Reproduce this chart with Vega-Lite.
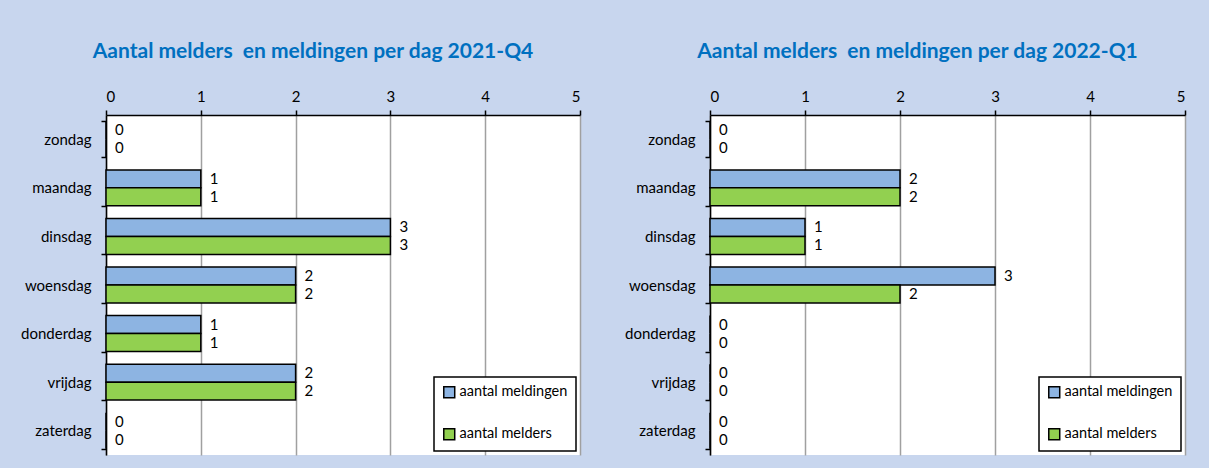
{
  "$schema": "https://vega.github.io/schema/vega-lite/v6.json",
  "background": "#c8d6ee",
  "padding": {"left": 20, "top": 41, "right": 24, "bottom": 16},
  "bounds": "flush",
  "spacing": 130,
  "config": {
    "font": "Lato",
    "view": {"fill": "white", "stroke": null},
    "title": {"fontSize": 21, "fontWeight": "bold", "color": "#0070C0", "anchor": "middle", "offset": 27, "dx": -30},
    "axis": {"labelFontSize": 15, "labelColor": "black", "domainColor": "black", "domainWidth": 1.5, "tickColor": "black", "tickWidth": 1.5, "tickSize": 5, "labelFontWeight": "normal"},
    "legend": {"orient": "bottom-right", "offset": 4, "padding": 8, "rowPadding": 24, "strokeColor": "black", "fillColor": "white", "strokeWidth": 1.5, "symbolType": "square", "symbolSize": 120, "symbolStrokeColor": "black", "symbolStrokeWidth": 1.5, "labelFontSize": 14.5, "labelColor": "black", "labelOffset": 3, "symbolOpacity": 1}
  },
  "datasets": {
    "d": [
      {"periode": "2021-Q4", "dag": "zondag", "reeks": "aantal meldingen", "aantal": 0},
      {"periode": "2021-Q4", "dag": "zondag", "reeks": "aantal melders", "aantal": 0},
      {"periode": "2021-Q4", "dag": "maandag", "reeks": "aantal meldingen", "aantal": 1},
      {"periode": "2021-Q4", "dag": "maandag", "reeks": "aantal melders", "aantal": 1},
      {"periode": "2021-Q4", "dag": "dinsdag", "reeks": "aantal meldingen", "aantal": 3},
      {"periode": "2021-Q4", "dag": "dinsdag", "reeks": "aantal melders", "aantal": 3},
      {"periode": "2021-Q4", "dag": "woensdag", "reeks": "aantal meldingen", "aantal": 2},
      {"periode": "2021-Q4", "dag": "woensdag", "reeks": "aantal melders", "aantal": 2},
      {"periode": "2021-Q4", "dag": "donderdag", "reeks": "aantal meldingen", "aantal": 1},
      {"periode": "2021-Q4", "dag": "donderdag", "reeks": "aantal melders", "aantal": 1},
      {"periode": "2021-Q4", "dag": "vrijdag", "reeks": "aantal meldingen", "aantal": 2},
      {"periode": "2021-Q4", "dag": "vrijdag", "reeks": "aantal melders", "aantal": 2},
      {"periode": "2021-Q4", "dag": "zaterdag", "reeks": "aantal meldingen", "aantal": 0},
      {"periode": "2021-Q4", "dag": "zaterdag", "reeks": "aantal melders", "aantal": 0},
      {"periode": "2022-Q1", "dag": "zondag", "reeks": "aantal meldingen", "aantal": 0},
      {"periode": "2022-Q1", "dag": "zondag", "reeks": "aantal melders", "aantal": 0},
      {"periode": "2022-Q1", "dag": "maandag", "reeks": "aantal meldingen", "aantal": 2},
      {"periode": "2022-Q1", "dag": "maandag", "reeks": "aantal melders", "aantal": 2},
      {"periode": "2022-Q1", "dag": "dinsdag", "reeks": "aantal meldingen", "aantal": 1},
      {"periode": "2022-Q1", "dag": "dinsdag", "reeks": "aantal melders", "aantal": 1},
      {"periode": "2022-Q1", "dag": "woensdag", "reeks": "aantal meldingen", "aantal": 3},
      {"periode": "2022-Q1", "dag": "woensdag", "reeks": "aantal melders", "aantal": 2},
      {"periode": "2022-Q1", "dag": "donderdag", "reeks": "aantal meldingen", "aantal": 0},
      {"periode": "2022-Q1", "dag": "donderdag", "reeks": "aantal melders", "aantal": 0},
      {"periode": "2022-Q1", "dag": "vrijdag", "reeks": "aantal meldingen", "aantal": 0},
      {"periode": "2022-Q1", "dag": "vrijdag", "reeks": "aantal melders", "aantal": 0},
      {"periode": "2022-Q1", "dag": "zaterdag", "reeks": "aantal meldingen", "aantal": 0},
      {"periode": "2022-Q1", "dag": "zaterdag", "reeks": "aantal melders", "aantal": 0}
    ]
  },
  "resolve": {"scale": {"color": "independent"}, "legend": {"color": "independent"}},
  "hconcat": [
    {
      "width": 474,
      "height": 340,
      "title": "Aantal melders \u00a0en meldingen per dag 2021-Q4",
      "data": {"name": "d"},
      "transform": [{"filter": "datum.periode === '2021-Q4'"}],
      "encoding": {
        "y": {"field": "dag", "type": "nominal", "title": null,
              "sort": ["zondag", "maandag", "dinsdag", "woensdag", "donderdag", "vrijdag", "zaterdag"],
              "scale": {"paddingInner": 0.26, "paddingOuter": 0.13},
              "axis": {"tickBand": "extent", "labelPadding": 10, "grid": false}},
        "yOffset": {"field": "reeks", "type": "nominal", "sort": ["aantal meldingen", "aantal melders"]},
        "x": {"field": "aantal", "type": "quantitative", "title": null,
              "scale": {"domain": [0, 5], "nice": false},
              "axis": {"orient": "top", "values": [0, 1, 2, 3, 4, 5], "grid": true, "gridColor": "#a0a0a0", "gridWidth": 1.5, "gridOpacity": 1, "labelPadding": 6}}
      },
      "layer": [
        {"mark": {"type": "bar", "stroke": "black", "strokeWidth": 1.5},
         "encoding": {"color": {"field": "reeks", "type": "nominal", "title": null,
                                 "scale": {"domain": ["aantal meldingen", "aantal melders"], "range": ["#8DB4E2", "#92D050"]}}}},
        {"mark": {"type": "text", "align": "left", "dx": 9, "fontSize": 15, "color": "black"},
         "encoding": {"text": {"field": "aantal", "type": "quantitative"}}}
      ]
    },
    {
      "width": 475,
      "height": 340,
      "title": "Aantal melders \u00a0en meldingen per dag 2022-Q1",
      "data": {"name": "d"},
      "transform": [{"filter": "datum.periode === '2022-Q1'"}],
      "encoding": {
        "y": {"field": "dag", "type": "nominal", "title": null,
              "sort": ["zondag", "maandag", "dinsdag", "woensdag", "donderdag", "vrijdag", "zaterdag"],
              "scale": {"paddingInner": 0.26, "paddingOuter": 0.13},
              "axis": {"tickBand": "extent", "labelPadding": 10, "grid": false}},
        "yOffset": {"field": "reeks", "type": "nominal", "sort": ["aantal meldingen", "aantal melders"]},
        "x": {"field": "aantal", "type": "quantitative", "title": null,
              "scale": {"domain": [0, 5], "nice": false},
              "axis": {"orient": "top", "values": [0, 1, 2, 3, 4, 5], "grid": true, "gridColor": "#a0a0a0", "gridWidth": 1.5, "gridOpacity": 1, "labelPadding": 6}}
      },
      "layer": [
        {"mark": {"type": "bar", "stroke": "black", "strokeWidth": 1.5},
         "encoding": {"color": {"field": "reeks", "type": "nominal", "title": null,
                                 "scale": {"domain": ["aantal meldingen", "aantal melders"], "range": ["#8DB4E2", "#92D050"]}}}},
        {"mark": {"type": "text", "align": "left", "dx": 9, "fontSize": 15, "color": "black"},
         "encoding": {"text": {"field": "aantal", "type": "quantitative"}}}
      ]
    }
  ]
}
